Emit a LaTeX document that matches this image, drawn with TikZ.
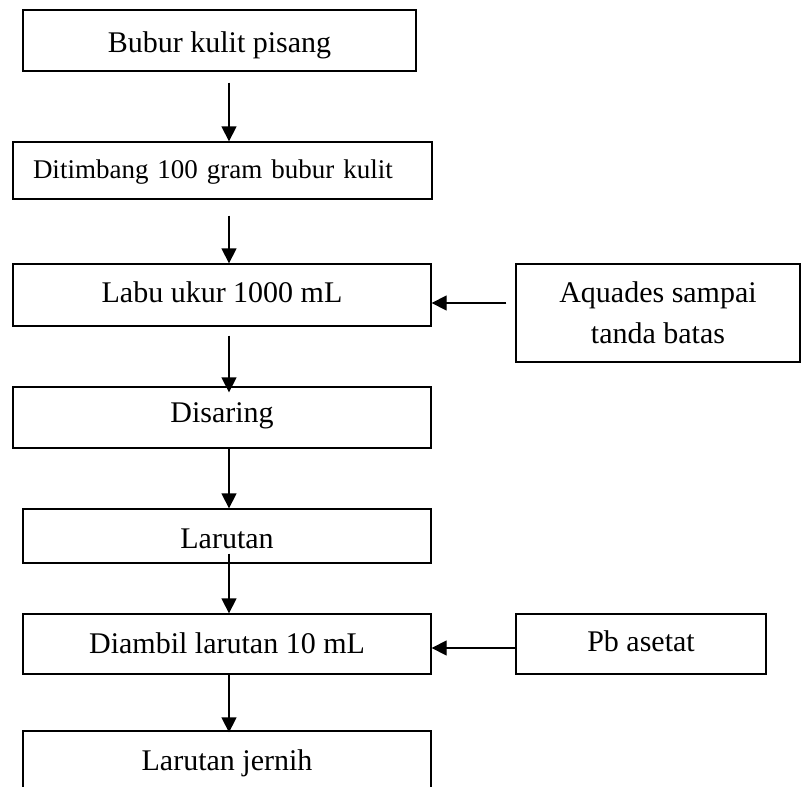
\documentclass[tikz,border=0pt]{standalone}
\usepackage{fontspec}
\setmainfont{Liberation Serif}
\usetikzlibrary{arrows.meta,calc}
\begin{document}
\begin{tikzpicture}[x=1pt,y=-1pt,
  box/.style={draw=black, line width=1.3pt, inner sep=0pt, text depth=6pt,
    font=\fontsize{30}{36}\selectfont},
  off/.style={text height=#1},
  arr/.style={draw=black, line width=1.3pt, -{Triangle[length=15pt,width=15pt]}}]
\useasboundingbox (0,0) rectangle (801,787);
\coordinate (ax) at (229,0);
\node[box, minimum width=393pt, minimum height=61pt, off=30pt] (b1) at (219.5,40.5) {Bubur kulit pisang};
\node[box, minimum width=419pt, minimum height=57pt, off=22pt, text width=379pt, align=left, inner xsep=20pt, font=\fontsize{27}{32}\selectfont] (b2) at (222.5,170.5) {Ditimbang 100 gram bubur kulit};
\node[box, minimum width=418pt, minimum height=62pt, off=21pt] (b3) at (222,295) {Labu ukur 1000 mL};
\node[box, minimum width=284pt, minimum height=98pt, align=center, text depth=0pt, font=\fontsize{30}{41}\selectfont] (aq) at (658,313) {Aquades sampai\\tanda batas};
\node[box, minimum width=418pt, minimum height=61pt, off=15pt] (b4) at (222,417.5) {Disaring};
\node[box, minimum width=408pt, minimum height=54pt, off=30pt] (b5) at (227,536) {Larutan};
\node[box, minimum width=408pt, minimum height=60pt, off=25pt] (b6) at (227,644) {Diambil larutan 10 mL};
\node[box, minimum width=250pt, minimum height=60pt, off=21pt] (pb) at (641,644) {Pb asetat};
\node[box, minimum width=408pt, minimum height=58pt, off=26pt] (b7) at (227,760) {Larutan jernih};
\draw[arr] ($(b1.south -| ax)+(0,11)$) -- (b2.north -| ax);
\draw[arr] ($(b2.south -| ax)+(0,16)$) -- (b3.north -| ax);
\draw[arr] ($(b3.south -| ax)+(0,9)$) -- ($(b4.north -| ax)+(0,6)$);
\draw[arr] (b4.south -| ax) -- (b5.north -| ax);
\draw[arr] ($(b5.south -| ax)+(0,-10)$) -- (b6.north -| ax);
\draw[arr] (b6.south -| ax) -- ($(b7.north -| ax)+(0,2)$);
\coordinate (aqs) at ($(aq.west)+(-9,-10)$);
\draw[arr] (aqs) -- (b3.east |- aqs);
\coordinate (pbs) at ($(pb.west)+(0,4)$);
\draw[arr] (pbs) -- (b6.east |- pbs);
\end{tikzpicture}
\end{document}
